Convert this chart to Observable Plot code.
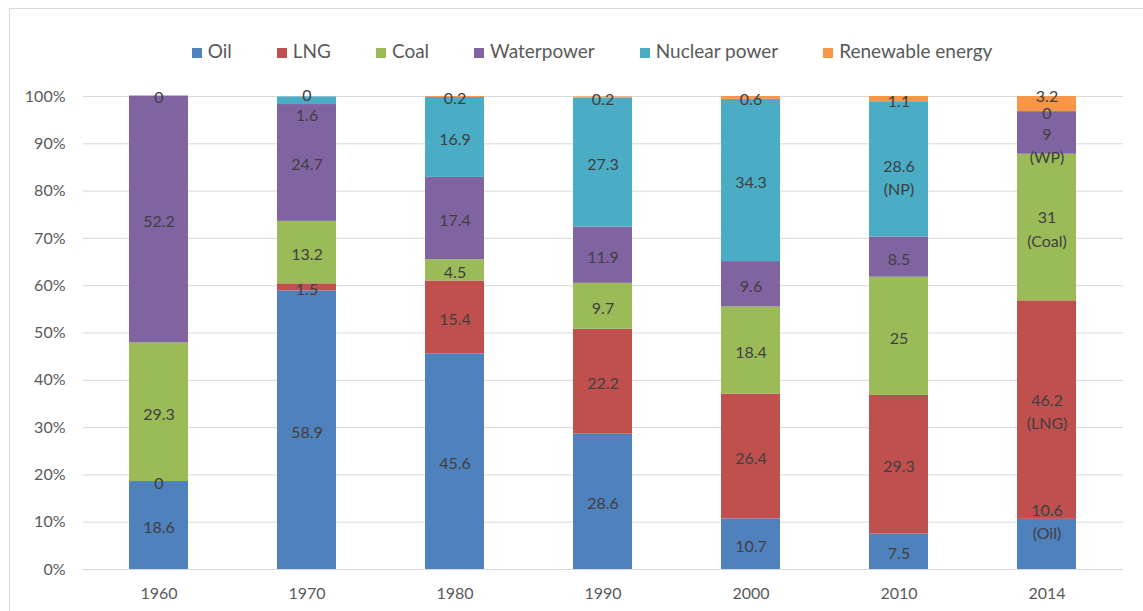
<!DOCTYPE html>
<html>
<head>
<meta charset="utf-8">
<script src="https://cdn.jsdelivr.net/npm/d3@7"></script>
<script src="https://cdn.jsdelivr.net/npm/@observablehq/plot@0.6"></script>
<style>
  html, body { margin: 0; padding: 0; background: #fff; }
  #wrap { position: relative; width: 1143px; height: 611px; overflow: hidden; font-family: Lato, "Open Sans", sans-serif; }
  #frame { position: absolute; left: 9px; top: 8px; width: 1200px; height: 700px; border-left: 1px solid #d9d9d9; border-top: 1px solid #d9d9d9; pointer-events: none; }
  #legend { height: 70px; box-sizing: border-box; padding-top: 31px; width: 1184px; display: flex; justify-content: center; gap: 45px; font-size: 19px; color: #595959; line-height: 24px; }
  #legend .item { display: flex; align-items: center; gap: 6px; white-space: nowrap; }
  #legend .sw { width: 10px; height: 10px; display: inline-block; position: relative; top: 2px; }
</style>
</head>
<body>
<div id="wrap">
  <div id="frame"></div>
  <div id="legend"></div>
  <div id="chart"></div>
</div>
<script>
const years = ["1960", "1970", "1980", "1990", "2000", "2010", "2014"];
const sources = ["Oil", "LNG", "Coal", "Waterpower", "Nuclear power", "Renewable energy"];
const colors = ["#4F81BD", "#C0504D", "#9BBB59", "#8064A2", "#4BACC6", "#F79646"];
const oil = [18.6, 58.9, 45.6, 28.6, 10.7, 7.5, 10.6];
const lng = [0, 1.5, 15.4, 22.2, 26.4, 29.3, 46.2];
const coal = [29.3, 13.2, 4.5, 9.7, 18.4, 25, 31];
const waterpower = [52.2, 24.7, 17.4, 11.9, 9.6, 8.5, 9];
const nuclear = [0, 1.6, 16.9, 27.3, 34.3, 28.6, 0];
const renewable = [null, 0, 0.2, 0.2, 0.6, 1.1, 3.2];
// extra label lines: [year, source, note]
const notes = [
  ["2014", "Oil", "(Oil)"],
  ["2014", "LNG", "(LNG)"],
  ["2014", "Coal", "(Coal)"],
  ["2014", "Waterpower", "(WP)"],
  ["2010", "Nuclear power", "(NP)"]
];
const yTicks = [0, 10, 20, 30, 40, 50, 60, 70, 80, 90, 100];

const series = [oil, lng, coal, waterpower, nuclear, renewable];
const data = [];
years.forEach((yr, i) => {
  sources.forEach((s, j) => {
    const v = series[j][i];
    if (v == null) return;
    const n = notes.find(d => d[0] === yr && d[1] === s);
    data.push({year: yr, source: s, value: v, label: String(v) + (n ? "\n" + n[2] : "")});
  });
});

// label nudges in pixels (style, not data)
const nudge = {"1970|Renewable energy": -3, "1970|Nuclear power": 13, "2014|Renewable energy": -10, "2014|Waterpower": 11, "2014|Oil": -24, "2010|Nuclear power": 7};
const key = d => d.year + "|" + d.source;
const nudgeValues = Array.from(new Set([0, ...Object.values(nudge)]));

// legend
const legend = document.getElementById("legend");
sources.forEach((s, j) => {
  const it = document.createElement("div");
  it.className = "item";
  it.innerHTML = `<span class="sw" style="background:${colors[j]}"></span><span>${s}</span>`;
  legend.appendChild(it);
});

const textMarks = nudgeValues.map(dy =>
  Plot.text(data, Plot.stackY({
    x: "year", y: "value", z: "source", text: d => ((nudge[key(d)] || 0) === dy ? d.label : ""),
    order: sources, fill: "#404040", fontSize: 16, lineHeight: 1.45, dy
  }))
);

const chart = Plot.plot({
  width: 1143,
  height: 541,
  marginTop: 26,
  marginBottom: 42,
  marginLeft: 83,
  marginRight: 20,
  style: {fontFamily: "Lato, 'Open Sans', sans-serif", fontSize: "16px", color: "#595959", background: "transparent"},
  x: {domain: years, paddingInner: 0.6, paddingOuter: 0.3, label: null, tickSize: 0, tickPadding: 18},
  y: {domain: [0, 100], ticks: yTicks, tickFormat: d => d + "%", label: null, tickSize: 0, tickPadding: 18},
  color: {domain: sources, range: colors},
  marks: [
    Plot.ruleY(yTicks, {stroke: "#d9d9d9", strokeWidth: 1}),
    Plot.barY(data, Plot.stackY({x: "year", y: "value", z: "source", fill: "source", order: sources})),
    ...textMarks
  ]
});
document.getElementById("chart").appendChild(chart);
</script>
</body>
</html>
